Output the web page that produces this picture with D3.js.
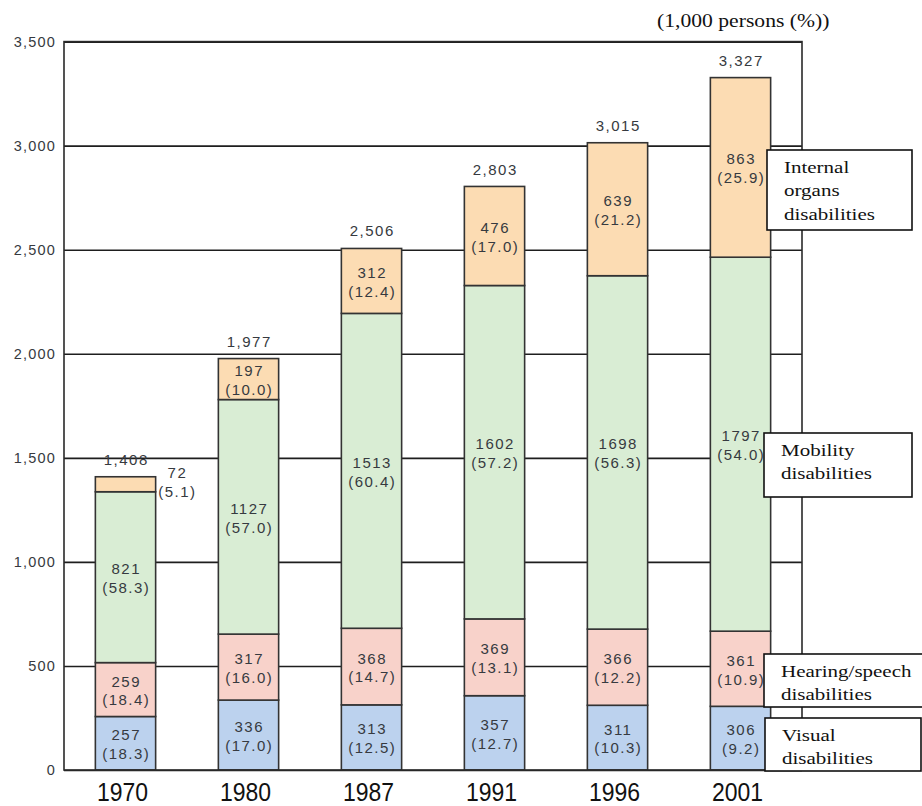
<!DOCTYPE html>
<html>
<head>
<meta charset="utf-8">
<script src="https://cdn.jsdelivr.net/npm/d3@7"></script>
<style>
  html, body { margin: 0; padding: 0; background: #fff; }
  svg { display: block; }
</style>
</head>
<body>
<svg id="chart" width="922" height="806"></svg>
<script>
// Persons with physical disabilities by type (1,000 persons, share in %)
const years = ["1970", "1980", "1987", "1991", "1996", "2001"];
const visual = [257, 336, 313, 357, 311, 306];
const visualPct = [18.3, 17.0, 12.5, 12.7, 10.3, 9.2];
const hearing = [259, 317, 368, 369, 366, 361];
const hearingPct = [18.4, 16.0, 14.7, 13.1, 12.2, 10.9];
const mobility = [821, 1127, 1513, 1602, 1698, 1797];
const mobilityPct = [58.3, 57.0, 60.4, 57.2, 56.3, 54.0];
const internal = [72, 197, 312, 476, 639, 863];
const internalPct = [5.1, 10.0, 12.4, 17.0, 21.2, 25.9];
const totals = [1408, 1977, 2506, 2803, 3015, 3327];
const yTicks = [0, 500, 1000, 1500, 2000, 2500, 3000, 3500];
const seriesNames = ["Visual disabilities", "Hearing/speech disabilities", "Mobility disabilities", "Internal organs disabilities"];

const colors = ["#bcd2ee", "#f8d2ca", "#d9edd4", "#fcdcb3"];

const svg = d3.select("#chart");
const plotL = 64, plotR = 802, plotT = 41.6, plotB = 770;

const x = d3.scaleBand().domain(years).range([plotL, plotR])
  .paddingInner(0.51).paddingOuter(0.255);
const y = d3.scaleLinear().domain([0, 3500]).range([plotB, plotT]);

const numFont = "'Liberation Sans', Arial, sans-serif";
const serif = "'Liberation Serif', 'Times New Roman', serif";
const textCol = "#363a40";

// gridlines
svg.append("g")
  .attr("transform", `translate(${plotL},0)`)
  .call(d3.axisLeft(y).tickValues(yTicks).tickSize(-(plotR - plotL)).tickFormat(""))
  .call(g => g.select(".domain").remove())
  .call(g => g.selectAll("line").attr("stroke", "#1e1e1e").attr("stroke-width", 1.6));

// y axis labels
svg.append("g")
  .attr("transform", `translate(${plotL},0)`)
  .call(d3.axisLeft(y).tickValues(yTicks).tickSize(0).tickPadding(8).tickFormat(d3.format(",")))
  .call(g => g.select(".domain").remove())
  .call(g => g.selectAll("text")
    .attr("font-family", numFont).attr("font-size", 14.5)
    .attr("letter-spacing", "1.2px").attr("fill", textCol));

// stacked series
const rows = years.map((yr, i) => ({ year: yr, v0: visual[i], v1: hearing[i], v2: mobility[i], v3: internal[i] }));
const pcts = [visualPct, hearingPct, mobilityPct, internalPct];
const vals = [visual, hearing, mobility, internal];
const stack = d3.stack().keys(["v0", "v1", "v2", "v3"])(rows);

const layers = svg.append("g").selectAll("g").data(stack).join("g")
  .attr("fill", (d, k) => colors[k]);

layers.selectAll("rect").data(d => d).join("rect")
  .attr("x", d => x(d.data.year))
  .attr("width", x.bandwidth())
  .attr("y", d => y(d[1]))
  .attr("height", d => y(d[0]) - y(d[1]))
  .attr("stroke", "#333")
  .attr("stroke-width", 1.6);

// frame: left axis, top, right, bottom
svg.append("rect")
  .attr("x", plotL).attr("y", plotT)
  .attr("width", plotR - plotL).attr("height", plotB - plotT)
  .attr("fill", "none").attr("stroke", "#2a2a2a").attr("stroke-width", 1.6);

// segment value labels
const labelG = svg.append("g")
  .attr("font-family", numFont).attr("font-size", 15)
  .attr("letter-spacing", "1.5px").attr("fill", textCol)
  .attr("text-anchor", "middle");

stack.forEach((layer, k) => {
  layer.forEach((d, i) => {
    const outside = (k === 3 && i === 0);
    const cx = outside ? x(d.data.year) + x.bandwidth() + 21 : x(d.data.year) + x.bandwidth() / 2;
    const cy = outside ? y(d[1]) + 4 : (y(d[0]) + y(d[1])) / 2;
    const t = labelG.append("text").attr("transform", `translate(${cx + 0.75},${cy})`);
    t.append("tspan").attr("x", 0).attr("dy", "-0.2em").text(vals[k][i]);
    t.append("tspan").attr("x", 0).attr("dy", "1.25em").text(`(${pcts[k][i].toFixed(1)})`);
  });
});

// totals above each bar
svg.append("g")
  .attr("font-family", numFont).attr("font-size", 15)
  .attr("letter-spacing", "1.5px").attr("fill", textCol)
  .attr("text-anchor", "middle")
  .selectAll("text").data(years).join("text")
  .attr("x", d => x(d) + x.bandwidth() / 2 + 0.75)
  .attr("y", (d, i) => y(totals[i]) - 12)
  .text((d, i) => d3.format(",")(totals[i]));

// x axis labels
svg.append("g")
  .attr("transform", `translate(0,${plotB})`)
  .call(d3.axisBottom(x).tickSize(0).tickPadding(0))
  .call(g => g.select(".domain").remove())
  .call(g => g.selectAll("text").attr("dy", null).attr("y", 0)
    .attr("font-family", numFont).attr("font-size", 23).attr("fill", "#111")
    .attr("transform", "translate(-3,31) scale(1,1.12)"));

// unit note
svg.append("text")
  .attr("transform", "translate(657,27) scale(1.17,1)")
  .attr("font-family", serif).attr("font-size", 18.5).attr("fill", "#111")
  .text("(1,000 persons (%))");

// legend boxes
const legend = [
  { lines: ["Internal", "organs", "disabilities"], x0: 767, y0: 150, x1: 912, y1: 230 },
  { lines: ["Mobility", "disabilities"], x0: 764, y0: 433, x1: 912, y1: 497 },
  { lines: ["Hearing/speech", "disabilities"], x0: 764, y0: 654, x1: 924, y1: 707 },
  { lines: ["Visual", "disabilities"], x0: 765, y0: 718, x1: 921, y1: 771 }
];
const lg = svg.append("g");
legend.forEach((b, k) => {
  lg.append("rect")
    .attr("x", b.x0).attr("y", b.y0)
    .attr("width", b.x1 - b.x0).attr("height", b.y1 - b.y0)
    .attr("fill", "#fff").attr("stroke", "#111").attr("stroke-width", 1.6)
    .append("title").text(seriesNames[3 - k]);
  b.lines.forEach((ln, j) => {
    lg.append("text")
      .attr("transform", `translate(${b.x0 + 17},${b.y0 + 22.5 + j * 23.5}) scale(1.2,1)`)
      .attr("font-family", serif).attr("font-size", 17.5).attr("fill", "#111")
      .text(ln);
  });
});
</script>
</body>
</html>
